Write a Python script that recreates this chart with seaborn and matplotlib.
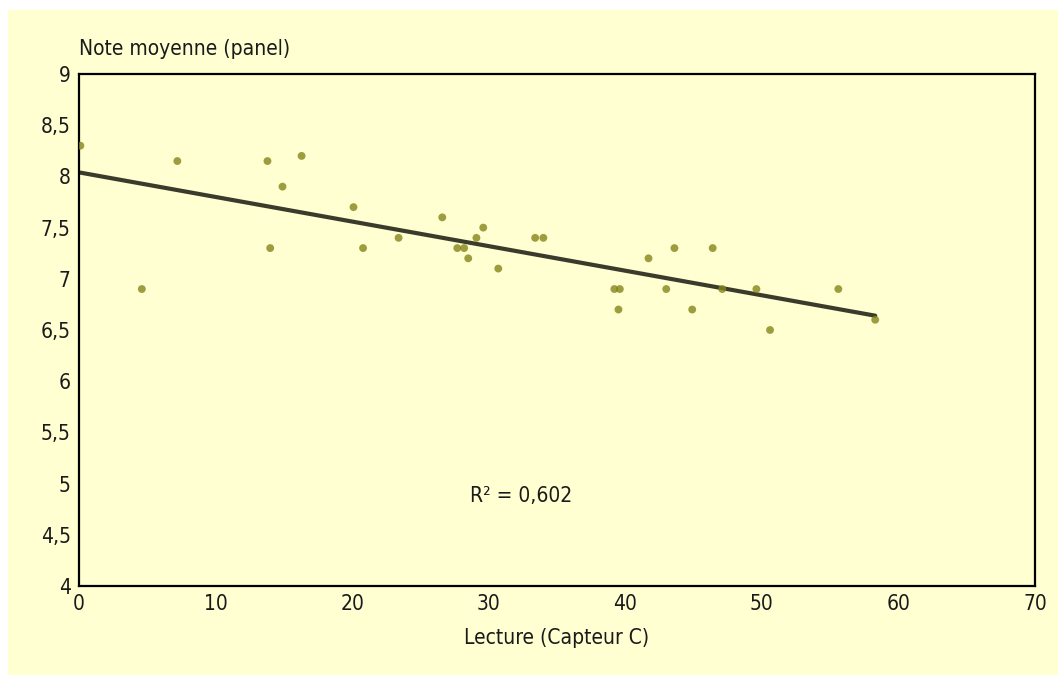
import numpy as np
import pandas as pd
import matplotlib
matplotlib.use("Agg")
import matplotlib.pyplot as plt
import seaborn as sns
from matplotlib.patches import Rectangle

# data
capteur = [0.1, 4.6, 7.2, 13.8, 14.0, 14.9, 16.3, 20.1, 20.8, 23.4, 26.6,
           27.7, 28.2, 28.5, 29.1, 29.6, 30.7, 33.4, 34.0, 39.2, 39.6, 39.5,
           41.7, 43.0, 43.6, 44.9, 46.4, 47.1, 49.6, 50.6, 55.6, 58.3]
note = [8.3, 6.9, 8.15, 8.15, 7.3, 7.9, 8.2, 7.7, 7.3, 7.4, 7.6,
        7.3, 7.3, 7.2, 7.4, 7.5, 7.1, 7.4, 7.4, 6.9, 6.9, 6.7,
        7.2, 6.9, 7.3, 6.7, 7.3, 6.9, 6.9, 6.5, 6.9, 6.6]
x_ticks = [0, 10, 20, 30, 40, 50, 60, 70]
y_ticks = [4, 4.5, 5, 5.5, 6, 6.5, 7, 7.5, 8, 8.5, 9]
y_labels = ["4", "4,5", "5", "5,5", "6", "6,5", "7", "7,5", "8", "8,5", "9"]
r2_label = "R² = 0,602"

df = pd.DataFrame({"capteur": capteur, "note": note})

sns.set_style("white")
plt.rcParams['font.family'] = ['DejaVu Sans']
plt.rcParams['font.stretch'] = 'condensed'

bg = "#ffffd2"
txt = "#1a1a1a"
fig = plt.figure(figsize=(10.58, 6.75), dpi=100, facecolor="white")
fig.patches.append(Rectangle((8 / 1058, 0), 1, 1 - 10 / 675,
                             transform=fig.transFigure, color=bg, zorder=-10))
ax = fig.add_axes([79 / 1058, 1 - 586 / 675, (1035 - 79) / 1058, (586 - 74) / 675])
ax.set_facecolor(bg)

sns.regplot(data=df, x="capteur", y="note", ax=ax, ci=None,
            scatter_kws=dict(s=32, color="#85851a", edgecolor="none", zorder=3),
            line_kws=dict(color="#3b3b2b", lw=3, zorder=2))

ax.set_xlim(0, 70)
ax.set_ylim(4, 9)
ax.set_xticks(x_ticks)
ax.set_yticks(y_ticks)
ax.set_yticklabels(y_labels)
ax.tick_params(axis="both", labelsize=15, length=4, width=1.2, color="black",
               direction="out", pad=2, labelcolor=txt)
for s in ax.spines.values():
    s.set_color("black")
    s.set_linewidth(1.6)

ax.set_xlabel("Lecture (Capteur C)", fontsize=15, color=txt, labelpad=10)
ax.set_ylabel("")
ax.text(0, 1.03, "Note moyenne (panel)", transform=ax.transAxes,
        fontsize=15, color=txt, ha="left", va="bottom")
ax.text(28.6, 4.88, r2_label, fontsize=15, color=txt, ha="left", va="center")

slope, inter = np.polyfit(capteur, note, 1)
print("fit", slope, inter, np.corrcoef(capteur, note)[0, 1] ** 2)

fig.savefig("out.png", dpi=100, facecolor=fig.get_facecolor())
